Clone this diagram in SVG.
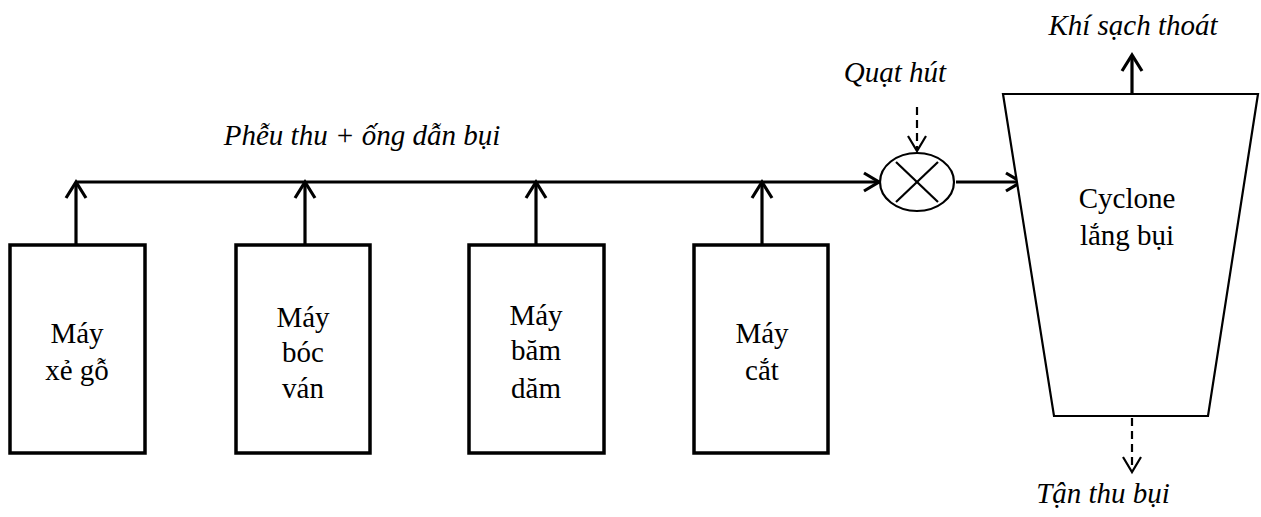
<svg xmlns="http://www.w3.org/2000/svg" width="1261" height="517" viewBox="0 0 1261 517">
<style>
text{font-family:Liberation Serif,Tinos,Times New Roman,serif;font-size:29px;fill:#000;text-anchor:middle}
.it{font-style:italic}
.box{fill:#fff;stroke:#000;stroke-width:3.5}
.thin{fill:#fff;stroke:#000;stroke-width:2.2}
.ln{fill:none;stroke:#000;stroke-width:3.2}
.ah{fill:none;stroke:#000;stroke-width:3.2;stroke-linejoin:miter}
.dl{fill:none;stroke:#000;stroke-width:2.2;stroke-dasharray:8 5}
.ahd{fill:none;stroke:#000;stroke-width:2.2}
</style>
<g id="connectors">
<line class="ln" x1="76" y1="182" x2="878" y2="182"/>
<path class="ah" d="M864,173 L879,182 L864,191"/>
<line class="ln" x1="76" y1="245" x2="76" y2="183"/>
<path class="ah" d="M66,198 L76,182 L86,198"/>
<line class="ln" x1="305" y1="245" x2="305" y2="183"/>
<path class="ah" d="M295,198 L305,182 L315,198"/>
<line class="ln" x1="536" y1="245" x2="536" y2="183"/>
<path class="ah" d="M526,198 L536,182 L546,198"/>
<line class="ln" x1="762" y1="245" x2="762" y2="183"/>
<path class="ah" d="M752,198 L762,182 L772,198"/>
<line class="ln" x1="956" y1="182" x2="1020" y2="182"/>
<path class="ah" d="M1006,173 L1021,182 L1006,191"/>
<line class="ln" x1="1132" y1="94" x2="1132" y2="56"/>
<path class="ah" d="M1122,71 L1132,55 L1142,71"/>
<line class="dl" x1="917" y1="107" x2="917" y2="150"/>
<path class="ahd" d="M908,136 L917,151 L926,136"/>
<line class="dl" x1="1132" y1="418" x2="1132" y2="471"/>
<path class="ahd" d="M1123,457 L1132,472 L1141,457"/>
<text class="it" x="362" y="145">Phễu thu + ống dẫn bụi</text>
</g>
<g id="may-xe-go">
<rect class="box" x="10" y="245" width="135" height="208"/>
<text x="77" y="343">Máy</text>
<text x="77" y="380">xẻ gỗ</text>
</g>
<g id="may-boc-van">
<rect class="box" x="236" y="245" width="134" height="208"/>
<text x="303" y="327">Máy</text>
<text x="303" y="362">bóc</text>
<text x="303" y="398">ván</text>
</g>
<g id="may-bam-dam">
<rect class="box" x="469" y="245" width="135" height="208"/>
<text x="536" y="325">Máy</text>
<text x="536" y="360">băm</text>
<text x="536" y="398">dăm</text>
</g>
<g id="may-cat">
<rect class="box" x="694" y="245" width="134" height="208"/>
<text x="762" y="343">Máy</text>
<text x="762" y="380">cắt</text>
</g>
<g id="quat-hut">
<ellipse class="thin" cx="917" cy="182" rx="37" ry="29"/>
<line class="thin" x1="896" y1="162" x2="938" y2="202"/>
<line class="thin" x1="938" y1="162" x2="896" y2="202"/>
<text class="it" x="895" y="82">Quạt hút</text>
</g>
<g id="cyclone">
<polygon class="thin" points="1003,94 1258,94 1208,416 1054,416"/>
<text x="1127" y="208">Cyclone</text>
<text x="1127" y="245">lắng bụi</text>
</g>
<g id="outputs">
<text class="it" x="1133" y="35">Khí sạch thoát</text>
<text class="it" x="1103" y="503">Tận thu bụi</text>
</g>
</svg>
